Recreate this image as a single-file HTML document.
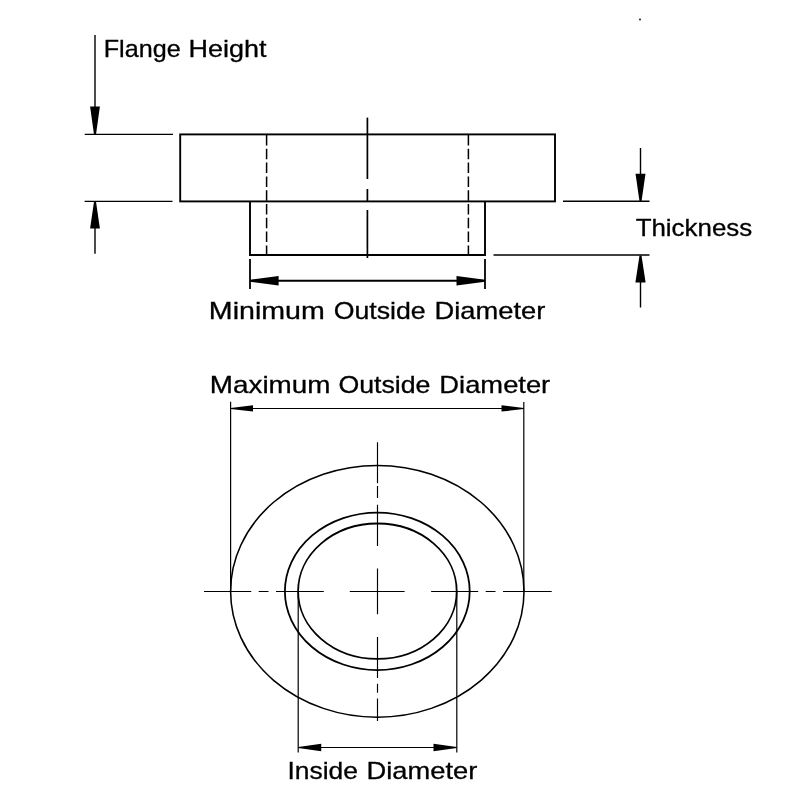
<!DOCTYPE html>
<html><head><meta charset="utf-8">
<style>
html,body{margin:0;padding:0;background:#fff;width:800px;height:800px;overflow:hidden}
svg{display:block;will-change:transform}
text{font-family:"Liberation Sans",sans-serif;font-size:24px;fill:#000;stroke:#000;stroke-width:0.3}
</style></head><body>
<svg width="800" height="800" viewBox="0 0 800 800">
<rect width="800" height="800" fill="#fff"/>
<g stroke="#000" fill="none" stroke-linecap="butt">
  <!-- side view body -->
  <g stroke-width="1.9">
    <rect x="180.2" y="134.4" width="374.8" height="67"/>
    <polyline points="250,201.4 250,255 485,255 485,201.4"/>
  </g>
  <g stroke-width="1.5" stroke-dasharray="10.5 3.3">
    <line x1="266.6" y1="135" x2="266.6" y2="255"/>
    <line x1="468.4" y1="135" x2="468.4" y2="255"/>
  </g>
  <g stroke-width="1.7">
    <line x1="367.4" y1="117.6" x2="367.4" y2="179"/>
    <line x1="367.4" y1="189" x2="367.4" y2="201"/>
    <line x1="367.4" y1="210" x2="367.4" y2="258"/>
  </g>
  <!-- flange height / thickness -->
  <g stroke-width="1.4">
    <line x1="84.7" y1="134.4" x2="173" y2="134.4"/>
    <line x1="84.6" y1="201.4" x2="172.5" y2="201.4"/>
    <line x1="95" y1="35" x2="95" y2="108"/>
    <line x1="95" y1="227" x2="95" y2="253.7"/>
    <line x1="563" y1="201.3" x2="649.5" y2="201.3"/>
    <line x1="493.5" y1="255" x2="649.5" y2="255"/>
    <line x1="640.5" y1="148" x2="640.5" y2="175"/>
    <line x1="640.5" y1="281" x2="640.5" y2="307.5"/>
  </g>
  <!-- min OD -->
  <g stroke-width="1.8">
    <line x1="250" y1="259" x2="250" y2="289"/>
    <line x1="485" y1="259" x2="485" y2="289"/>
    <line x1="252" y1="280.75" x2="483" y2="280.75"/>
  </g>
  <!-- max OD / inside D -->
  <g stroke-width="1.2">
    <line x1="230.6" y1="401.75" x2="230.6" y2="591"/>
    <line x1="523.8" y1="402" x2="523.8" y2="591"/>
    <line x1="232" y1="408.5" x2="522" y2="408.5"/>
    <line x1="298.2" y1="591" x2="298.2" y2="752.5"/>
    <line x1="456.8" y1="591" x2="456.8" y2="752.5"/>
    <line x1="300" y1="747.5" x2="455" y2="747.5"/>
  </g>
  <!-- ellipses -->
  <g stroke-width="1.8">
    <ellipse cx="377.3" cy="591.3" rx="146.7" ry="125.9" stroke-width="1.55"/>
    <ellipse cx="377.3" cy="591.3" rx="92.4" ry="78.75"/>
    <ellipse cx="377.4" cy="591.2" rx="79.3" ry="67.7"/>
  </g>
  <!-- centre lines -->
  <g stroke-width="1.15">
    <path d="M204 591.5H251.25M258.7 591.5H268.5M276 591.5H323.8M349.8 591.5H404.6M431.1 591.5H478.2M485.7 591.5H495.5M503 591.5H551.7"/>
    <path d="M377.5 442.3V483.2M377.5 486V498M377.5 504.75V546M377.5 568.5V614.3M377.5 637V678M377.5 683.7V692.7M377.5 698.4V721"/>
  </g>
</g>
<g fill="#000" stroke="none">
  <!-- arrowheads (blunt tips) -->
  <polygon points="94,134.6 90.1,106.6 99.9,106.6 96,134.6"/>
  <polygon points="94,201.8 90.1,228.6 99.9,228.6 96,201.8"/>
  <polygon points="639.5,201.3 635.5,173.75 645.5,173.75 641.5,201.3"/>
  <polygon points="639.5,255.5 635.4,282.5 645.6,282.5 641.5,255.5"/>
  <polygon points="250,279.7 278.6,276.1 278.6,285.4 250,281.8"/>
  <polygon points="485,279.7 456.5,276.1 456.5,285.4 485,281.8"/>
  <polygon points="230.6,407.9 253,405.2 253,411.6 230.6,409.1"/>
  <polygon points="523.8,407.9 501.5,405.2 501.5,411.6 523.8,409.1"/>
  <polygon points="298.2,746.9 321.25,743.8 321.25,751.2 298.2,748.1"/>
  <polygon points="456.8,746.9 433.5,743.8 433.5,751.2 456.8,748.1"/>
  <circle cx="640" cy="19.5" r="0.9"/>
</g>
<text x="103.76" y="57.45" textLength="76.89" lengthAdjust="spacingAndGlyphs">Flange</text>
<text x="188.60" y="57.45" textLength="77.93" lengthAdjust="spacingAndGlyphs">Height</text>
<text x="635.67" y="236.26" textLength="116.56" lengthAdjust="spacingAndGlyphs">Thickness</text>
<text x="208.87" y="319.15" textLength="115.91" lengthAdjust="spacingAndGlyphs">Minimum</text>
<text x="333.65" y="319.15" textLength="92.00" lengthAdjust="spacingAndGlyphs">Outside</text>
<text x="434.49" y="319.15" textLength="110.76" lengthAdjust="spacingAndGlyphs">Diameter</text>
<text x="209.81" y="392.85" textLength="120.70" lengthAdjust="spacingAndGlyphs">Maximum</text>
<text x="338.41" y="392.85" textLength="92.06" lengthAdjust="spacingAndGlyphs">Outside</text>
<text x="439.39" y="392.85" textLength="110.84" lengthAdjust="spacingAndGlyphs">Diameter</text>
<text x="287.51" y="778.85" textLength="70.44" lengthAdjust="spacingAndGlyphs">Inside</text>
<text x="366.50" y="778.85" textLength="110.74" lengthAdjust="spacingAndGlyphs">Diameter</text>
</svg>
</body></html>
